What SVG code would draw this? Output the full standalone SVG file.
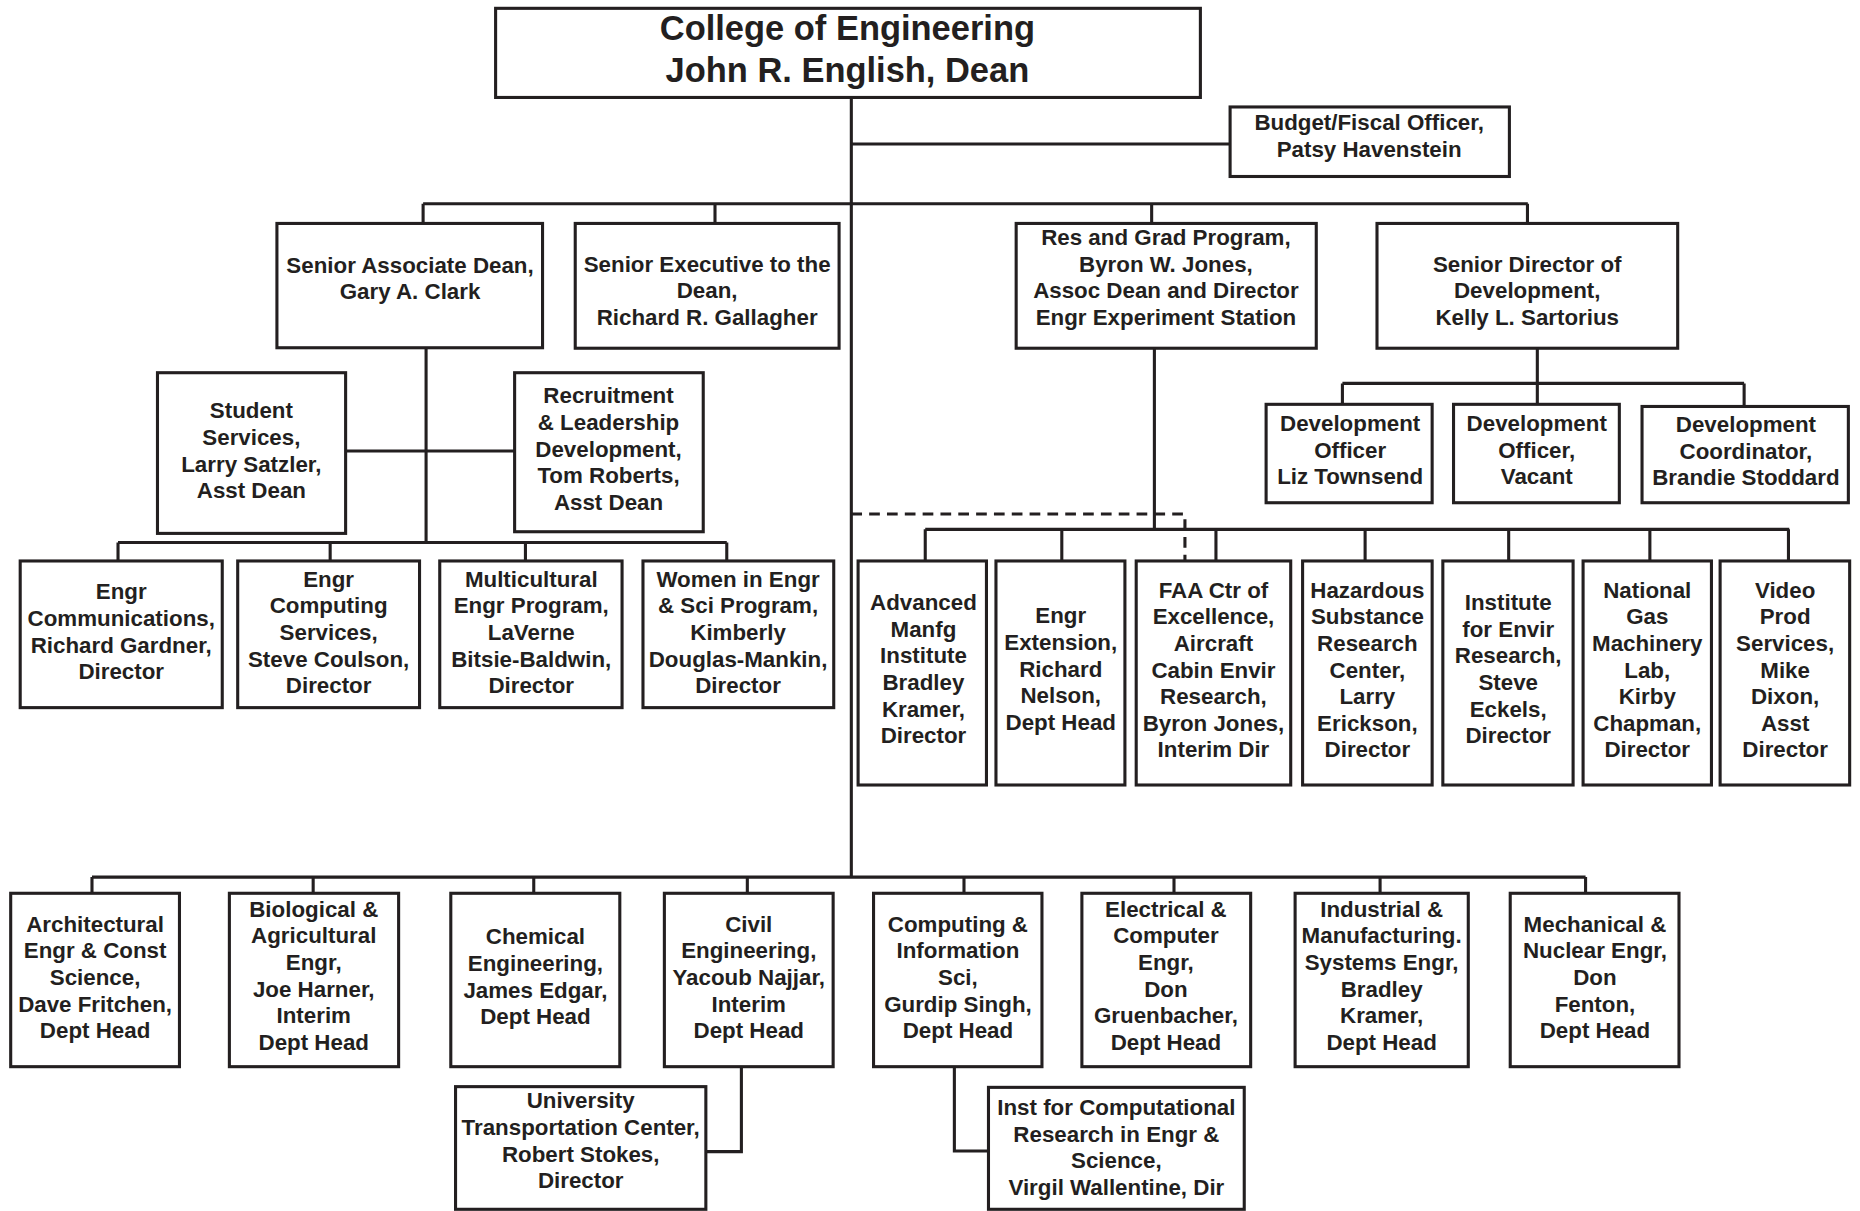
<svg xmlns="http://www.w3.org/2000/svg" width="1860" height="1211" viewBox="0 0 1860 1211">
<style>
.box{fill:#fff;stroke:#231f20;stroke-width:2.6}
.ln{fill:none;stroke:#231f20;stroke-width:2.6}
.dash{fill:none;stroke:#231f20;stroke-width:2.6;stroke-dasharray:9 6}
text{font-family:"Liberation Sans",Arial,Helvetica,sans-serif;font-weight:bold;font-size:18.8px;fill:#231f20;text-anchor:middle}
.title{font-size:29px}
</style>
<rect width="1860" height="1211" fill="#fff"/>
<g transform="scale(1.1885)">
<g id="connectors">
<path class="ln" d="M716.3 82V738"/>
<path class="ln" d="M716.3 121.2H1035"/>
<path class="ln" d="M356 171.5H1285.5M356 171.5V188M601.6 171.5V188M969 171.5V188M1285.2 171.5V188"/>
<path class="ln" d="M358.5 292.6V456.5"/>
<path class="ln" d="M290.8 379.5H433"/>
<path class="ln" d="M99.3 456.5H611.5M99.3 456.5V472M277.8 456.5V472M442.1 456.5V472M611.5 456.5V472"/>
<path class="ln" d="M1293.5 293V322.6M1129.5 322.6H1467.5M1129.5 322.6V340.2M1293.5 322.6V340.2M1467.5 322.6V342"/>
<path class="ln" d="M971.3 293V445.4M778.5 445.4H1505.5M778.5 445.4V472M893.4 445.4V472M1023.1 445.4V472M1148.6 445.4V472M1269.4 445.4V472M1388.2 445.4V472M1504.8 445.4V472"/>
<path class="dash" d="M716.3 432.5H997V472"/>
<path class="ln" d="M77.4 738H1334.1M77.4 738V751.6M263.5 738V751.6M449.1 738V751.6M628.8 738V751.6M811.1 738V751.6M987.8 738V751.6M1161.2 738V751.6M1334.1 738V751.6"/>
<path class="ln" d="M623.8 897.5V969H593.9"/>
<path class="ln" d="M803 897.5V968.5H831.7"/>
</g>

<g id="dean"><rect class="box" x="417" y="7" width="593" height="75"/>
<text class="title" x="713"><tspan x="713" y="33.7">College of Engineering</tspan><tspan x="713" y="68.7">John R. English, Dean</tspan></text></g>

<g id="budget"><rect class="box" x="1035" y="90" width="235" height="58.5"/>
<text><tspan x="1152" y="109.4">Budget/Fiscal Officer,</tspan><tspan x="1152" y="131.8">Patsy Havenstein</tspan></text></g>

<g id="sr-assoc-dean"><rect class="box" x="233" y="188" width="223.5" height="104.6"/>
<text><tspan x="345" y="229.5">Senior Associate Dean,</tspan><tspan x="345" y="251.9">Gary A. Clark</tspan></text></g>

<g id="sr-exec"><rect class="box" x="484" y="188" width="222" height="105"/>
<text><tspan x="595" y="228.6">Senior Executive to the</tspan><tspan x="595" y="251">Dean,</tspan><tspan x="595" y="273.4">Richard R. Gallagher</tspan></text></g>

<g id="res-grad"><rect class="box" x="855" y="188" width="252.5" height="105"/>
<text><tspan x="981" y="206.1">Res and Grad Program,</tspan><tspan x="981" y="228.5">Byron W. Jones,</tspan><tspan x="981" y="250.9">Assoc Dean and Director</tspan><tspan x="981" y="273.3">Engr Experiment Station</tspan></text></g>

<g id="sr-dir-dev"><rect class="box" x="1158.6" y="188" width="253" height="105"/>
<text><tspan x="1285" y="228.6">Senior Director of</tspan><tspan x="1285" y="251">Development,</tspan><tspan x="1285" y="273.4">Kelly L. Sartorius</tspan></text></g>

<g id="student-services"><rect class="box" x="132.5" y="313.6" width="158.3" height="135.2"/>
<text><tspan x="211.5" y="352">Student</tspan><tspan x="211.5" y="374.4">Services,</tspan><tspan x="211.5" y="396.8">Larry Satzler,</tspan><tspan x="211.5" y="419.2">Asst Dean</tspan></text></g>

<g id="recruitment"><rect class="box" x="433" y="313.6" width="158.7" height="133.8"/>
<text><tspan x="512" y="339.4">Recruitment</tspan><tspan x="512" y="361.8">&amp; Leadership</tspan><tspan x="512" y="384.2">Development,</tspan><tspan x="512" y="406.6">Tom Roberts,</tspan><tspan x="512" y="429">Asst Dean</tspan></text></g>

<g id="engr-comm"><rect class="box" x="17" y="472" width="170" height="123.4"/>
<text><tspan x="102" y="504.4">Engr</tspan><tspan x="102" y="526.8">Communications,</tspan><tspan x="102" y="549.2">Richard Gardner,</tspan><tspan x="102" y="571.6">Director</tspan></text></g>

<g id="engr-computing"><rect class="box" x="200" y="472" width="153" height="123.4"/>
<text><tspan x="276.5" y="493.6">Engr</tspan><tspan x="276.5" y="516">Computing</tspan><tspan x="276.5" y="538.4">Services,</tspan><tspan x="276.5" y="560.8">Steve Coulson,</tspan><tspan x="276.5" y="583.2">Director</tspan></text></g>

<g id="multicultural"><rect class="box" x="370" y="472" width="153.4" height="123.4"/>
<text><tspan x="447" y="493.6">Multicultural</tspan><tspan x="447" y="516">Engr Program,</tspan><tspan x="447" y="538.4">LaVerne</tspan><tspan x="447" y="560.8">Bitsie-Baldwin,</tspan><tspan x="447" y="583.2">Director</tspan></text></g>

<g id="women-engr"><rect class="box" x="541" y="472" width="160.5" height="123.4"/>
<text><tspan x="621" y="493.6">Women in Engr</tspan><tspan x="621" y="516">&amp; Sci Program,</tspan><tspan x="621" y="538.4">Kimberly</tspan><tspan x="621" y="560.8">Douglas-Mankin,</tspan><tspan x="621" y="583.2">Director</tspan></text></g>

<g id="dev-officer-liz"><rect class="box" x="1065.3" y="340.2" width="139.7" height="82.8"/>
<text><tspan x="1136" y="362.6">Development</tspan><tspan x="1136" y="385">Officer</tspan><tspan x="1136" y="407.4">Liz Townsend</tspan></text></g>

<g id="dev-officer-vacant"><rect class="box" x="1223" y="340.2" width="139.5" height="82.8"/>
<text><tspan x="1293" y="362.6">Development</tspan><tspan x="1293" y="385">Officer,</tspan><tspan x="1293" y="407.4">Vacant</tspan></text></g>

<g id="dev-coord"><rect class="box" x="1381.6" y="342" width="173.6" height="81"/>
<text><tspan x="1469" y="363.5">Development</tspan><tspan x="1469" y="386">Coordinator,</tspan><tspan x="1469" y="408.4">Brandie Stoddard</tspan></text></g>

<g id="adv-manfg"><rect class="box" x="722" y="472" width="108" height="188.5"/>
<text><tspan x="777" y="513.3">Advanced</tspan><tspan x="777" y="535.7">Manfg</tspan><tspan x="777" y="558.1">Institute</tspan><tspan x="777" y="580.5">Bradley</tspan><tspan x="777" y="602.9">Kramer,</tspan><tspan x="777" y="625.3">Director</tspan></text></g>

<g id="engr-extension"><rect class="box" x="838" y="472" width="108.5" height="188.5"/>
<text><tspan x="892.5" y="524.5">Engr</tspan><tspan x="892.5" y="546.9">Extension,</tspan><tspan x="892.5" y="569.3">Richard</tspan><tspan x="892.5" y="591.7">Nelson,</tspan><tspan x="892.5" y="614.1">Dept Head</tspan></text></g>

<g id="faa-ctr"><rect class="box" x="956" y="472" width="130" height="188.5"/>
<text><tspan x="1021" y="502.9">FAA Ctr of</tspan><tspan x="1021" y="525.3">Excellence,</tspan><tspan x="1021" y="547.7">Aircraft</tspan><tspan x="1021" y="570.1">Cabin Envir</tspan><tspan x="1021" y="592.5">Research,</tspan><tspan x="1021" y="614.9">Byron Jones,</tspan><tspan x="1021" y="637.3">Interim Dir</tspan></text></g>

<g id="hazardous"><rect class="box" x="1096" y="472" width="109" height="188.5"/>
<text><tspan x="1150.5" y="502.9">Hazardous</tspan><tspan x="1150.5" y="525.3">Substance</tspan><tspan x="1150.5" y="547.7">Research</tspan><tspan x="1150.5" y="570.1">Center,</tspan><tspan x="1150.5" y="592.5">Larry</tspan><tspan x="1150.5" y="614.9">Erickson,</tspan><tspan x="1150.5" y="637.3">Director</tspan></text></g>

<g id="inst-envir"><rect class="box" x="1214" y="472" width="109.6" height="188.5"/>
<text><tspan x="1269" y="513.3">Institute</tspan><tspan x="1269" y="535.7">for Envir</tspan><tspan x="1269" y="558.1">Research,</tspan><tspan x="1269" y="580.5">Steve</tspan><tspan x="1269" y="602.9">Eckels,</tspan><tspan x="1269" y="625.3">Director</tspan></text></g>

<g id="natl-gas"><rect class="box" x="1332" y="472" width="108" height="188.5"/>
<text><tspan x="1386" y="502.9">National</tspan><tspan x="1386" y="525.3">Gas</tspan><tspan x="1386" y="547.7">Machinery</tspan><tspan x="1386" y="570.1">Lab,</tspan><tspan x="1386" y="592.5">Kirby</tspan><tspan x="1386" y="614.9">Chapman,</tspan><tspan x="1386" y="637.3">Director</tspan></text></g>

<g id="video-prod"><rect class="box" x="1447.3" y="472" width="109" height="188.5"/>
<text><tspan x="1502" y="502.9">Video</tspan><tspan x="1502" y="525.3">Prod</tspan><tspan x="1502" y="547.7">Services,</tspan><tspan x="1502" y="570.1">Mike</tspan><tspan x="1502" y="592.5">Dixon,</tspan><tspan x="1502" y="614.9">Asst</tspan><tspan x="1502" y="637.3">Director</tspan></text></g>

<g id="arch"><rect class="box" x="9" y="751.6" width="142" height="145.9"/>
<text><tspan x="80" y="783.9">Architectural</tspan><tspan x="80" y="806.3">Engr &amp; Const</tspan><tspan x="80" y="828.7">Science,</tspan><tspan x="80" y="851.1">Dave Fritchen,</tspan><tspan x="80" y="873.5">Dept Head</tspan></text></g>

<g id="bio-ag"><rect class="box" x="193" y="751.6" width="142.4" height="145.9"/>
<text><tspan x="264" y="771.3">Biological &amp;</tspan><tspan x="264" y="793.7">Agricultural</tspan><tspan x="264" y="816.1">Engr,</tspan><tspan x="264" y="838.5">Joe Harner,</tspan><tspan x="264" y="860.9">Interim</tspan><tspan x="264" y="883.3">Dept Head</tspan></text></g>

<g id="chem"><rect class="box" x="379.3" y="751.6" width="142.2" height="145.9"/>
<text><tspan x="450.5" y="794.6">Chemical</tspan><tspan x="450.5" y="817">Engineering,</tspan><tspan x="450.5" y="839.4">James Edgar,</tspan><tspan x="450.5" y="861.8">Dept Head</tspan></text></g>

<g id="civil"><rect class="box" x="559" y="751.6" width="142" height="145.9"/>
<text><tspan x="630" y="783.9">Civil</tspan><tspan x="630" y="806.3">Engineering,</tspan><tspan x="630" y="828.7">Yacoub Najjar,</tspan><tspan x="630" y="851.1">Interim</tspan><tspan x="630" y="873.5">Dept Head</tspan></text></g>

<g id="computing-info"><rect class="box" x="735" y="751.6" width="141.7" height="145.9"/>
<text><tspan x="806" y="783.9">Computing &amp;</tspan><tspan x="806" y="806.3">Information</tspan><tspan x="806" y="828.7">Sci,</tspan><tspan x="806" y="851.1">Gurdip Singh,</tspan><tspan x="806" y="873.5">Dept Head</tspan></text></g>

<g id="elec-comp"><rect class="box" x="910.3" y="751.6" width="142" height="145.9"/>
<text><tspan x="981" y="771.3">Electrical &amp;</tspan><tspan x="981" y="793.7">Computer</tspan><tspan x="981" y="816.1">Engr,</tspan><tspan x="981" y="838.5">Don</tspan><tspan x="981" y="860.9">Gruenbacher,</tspan><tspan x="981" y="883.3">Dept Head</tspan></text></g>

<g id="industrial"><rect class="box" x="1089.7" y="751.6" width="145.7" height="145.9"/>
<text><tspan x="1162.5" y="771.3">Industrial &amp;</tspan><tspan x="1162.5" y="793.7">Manufacturing.</tspan><tspan x="1162.5" y="816.1">Systems Engr,</tspan><tspan x="1162.5" y="838.5">Bradley</tspan><tspan x="1162.5" y="860.9">Kramer,</tspan><tspan x="1162.5" y="883.3">Dept Head</tspan></text></g>

<g id="mech-nuclear"><rect class="box" x="1270.7" y="751.6" width="142" height="145.9"/>
<text><tspan x="1342" y="783.9">Mechanical &amp;</tspan><tspan x="1342" y="806.3">Nuclear Engr,</tspan><tspan x="1342" y="828.7">Don</tspan><tspan x="1342" y="851.1">Fenton,</tspan><tspan x="1342" y="873.5">Dept Head</tspan></text></g>

<g id="univ-transport"><rect class="box" x="383.3" y="914.3" width="210.6" height="103.2"/>
<text><tspan x="488.6" y="932.6">University</tspan><tspan x="488.6" y="955">Transportation Center,</tspan><tspan x="488.6" y="977.4">Robert Stokes,</tspan><tspan x="488.6" y="999.8">Director</tspan></text></g>

<g id="inst-comp-research"><rect class="box" x="831.7" y="914.9" width="215.2" height="102.6"/>
<text><tspan x="939.3" y="938.2">Inst for Computational</tspan><tspan x="939.3" y="960.6">Research in Engr &amp;</tspan><tspan x="939.3" y="983">Science,</tspan><tspan x="939.3" y="1005.4">Virgil Wallentine, Dir</tspan></text></g>
</g>
</svg>
